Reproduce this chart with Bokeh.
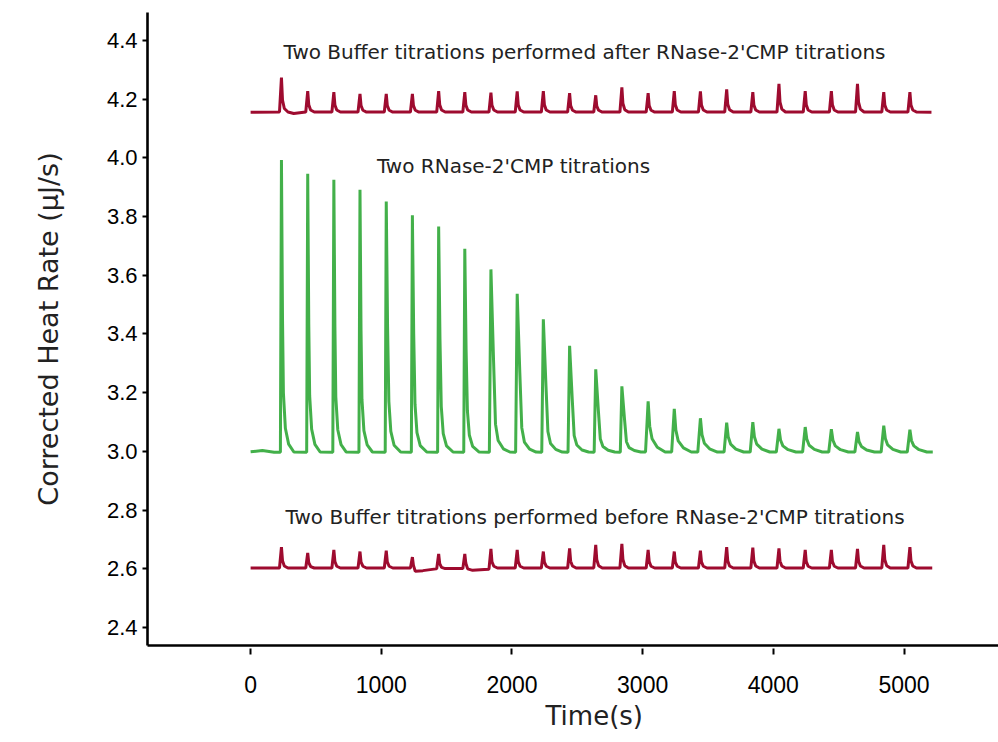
from bokeh.plotting import figure
from bokeh.models import Range1d, FixedTicker, ColumnDataSource, PrintfTickFormatter, Title
from bokeh.core.properties import value
from bokeh.embed import file_html
from bokeh.resources import INLINE

# ---------------- data ----------------
# RNase-2'CMP titration trace (green), time in s, heat rate in uJ/s
green_t = [0, 90, 180,
           228, 236, 244, 251, 266, 291, 331,
           429, 437, 445, 452, 467, 492, 532,
           629, 637, 645, 652, 667, 692, 732,
           829, 837, 845, 852, 867, 892, 932,
           1030, 1038, 1048, 1058, 1073, 1098, 1148,
           1230, 1238, 1248, 1258, 1273, 1298, 1348,
           1431, 1439, 1449, 1459, 1474, 1499, 1549,
           1631, 1639, 1649, 1659, 1674, 1699, 1749,
           1827, 1839, 1859, 1874, 1894, 1934, 1984,
           2028, 2040, 2060, 2075, 2095, 2135, 2185,
           2228, 2240, 2260, 2275, 2295, 2335, 2385,
           2429, 2441, 2461, 2476, 2496, 2536, 2586,
           2629, 2641, 2661, 2676, 2696, 2736, 2786,
           2829, 2841, 2861, 2876, 2896, 2936, 2986,
           3022, 3042, 3054, 3072, 3112, 3172,
           3222, 3242, 3254, 3272, 3312, 3372,
           3422, 3442, 3454, 3472, 3512, 3572,
           3623, 3643, 3655, 3673, 3713, 3773,
           3823, 3843, 3855, 3873, 3913, 3973,
           4023, 4043, 4055, 4073, 4113, 4173,
           4224, 4244, 4256, 4274, 4314, 4374,
           4424, 4444, 4456, 4474, 4514, 4574,
           4624, 4644, 4656, 4674, 4714, 4774,
           4825, 4845, 4857, 4875, 4915, 4975,
           5025, 5045, 5057, 5075, 5115, 5175,
           5220]
green_y = [2.999, 3.003, 2.997,
           2.997, 3.993, 3.457, 3.199, 3.079, 3.025, 2.998,
           2.997, 3.946, 3.435, 3.189, 3.076, 3.024, 2.998,
           2.997, 3.925, 3.426, 3.185, 3.074, 3.023, 2.998,
           2.997, 3.891, 3.410, 3.178, 3.071, 3.022, 2.998,
           2.997, 3.851, 3.426, 3.170, 3.068, 3.021, 2.998,
           2.997, 3.804, 3.402, 3.161, 3.064, 3.020, 2.998,
           2.997, 3.766, 3.383, 3.153, 3.061, 3.019, 2.998,
           2.997, 3.690, 3.345, 3.138, 3.055, 3.017, 2.998,
           2.997, 3.620, 3.310, 3.093, 3.037, 3.009, 2.998,
           2.997, 3.537, 3.269, 3.081, 3.032, 3.008, 2.998,
           2.997, 3.450, 3.225, 3.068, 3.027, 3.007, 2.998,
           2.997, 3.360, 3.180, 3.054, 3.022, 3.005, 2.998,
           2.997, 3.280, 3.140, 3.042, 3.017, 3.004, 2.998,
           2.997, 3.222, 3.111, 3.033, 3.013, 3.003, 2.998,
           2.998, 3.171, 3.086, 3.043, 3.014, 2.998,
           2.998, 3.145, 3.073, 3.036, 3.012, 2.998,
           2.998, 3.113, 3.057, 3.028, 3.009, 2.998,
           2.998, 3.098, 3.049, 3.025, 3.008, 2.998,
           2.998, 3.100, 3.050, 3.025, 3.008, 2.998,
           2.998, 3.077, 3.039, 3.019, 3.006, 2.998,
           2.998, 3.083, 3.042, 3.021, 3.007, 2.998,
           2.998, 3.076, 3.038, 3.019, 3.006, 2.998,
           2.998, 3.066, 3.033, 3.017, 3.005, 2.998,
           2.998, 3.088, 3.044, 3.022, 3.007, 2.998,
           2.998, 3.074, 3.037, 3.019, 3.006, 2.998,
           2.998]

# Buffer titrations after RNase-2'CMP (upper dark red trace)
after_t = [0,
           221, 236, 244, 258, 286, 330,
           422, 437, 445, 459, 487,
           622, 637, 645, 659, 687,
           822, 837, 845, 859, 887,
           1023, 1038, 1046, 1060, 1088,
           1223, 1238, 1246, 1260, 1288,
           1424, 1439, 1447, 1461, 1489,
           1624, 1639, 1647, 1661, 1689,
           1824, 1839, 1847, 1861, 1889,
           2025, 2040, 2048, 2062, 2090,
           2225, 2240, 2248, 2262, 2290,
           2426, 2441, 2449, 2463, 2491,
           2626, 2641, 2649, 2663, 2691,
           2826, 2841, 2849, 2863, 2891,
           3027, 3042, 3050, 3064, 3092,
           3227, 3242, 3250, 3264, 3292,
           3427, 3442, 3450, 3464, 3492,
           3628, 3643, 3651, 3665, 3693,
           3828, 3843, 3851, 3865, 3893,
           4028, 4043, 4051, 4065, 4093,
           4229, 4244, 4252, 4266, 4294,
           4429, 4444, 4452, 4466, 4494,
           4629, 4644, 4652, 4666, 4694,
           4830, 4845, 4853, 4867, 4895,
           5030, 5045, 5053, 5067, 5095,
           5210]
after_y = [4.155,
           4.156, 4.273, 4.197, 4.168, 4.156, 4.151,
           4.156, 4.227, 4.181, 4.163, 4.156,
           4.156, 4.224, 4.180, 4.163, 4.156,
           4.156, 4.218, 4.178, 4.162, 4.156,
           4.156, 4.218, 4.178, 4.162, 4.156,
           4.156, 4.218, 4.178, 4.162, 4.156,
           4.156, 4.227, 4.181, 4.163, 4.156,
           4.156, 4.224, 4.180, 4.163, 4.156,
           4.156, 4.222, 4.179, 4.163, 4.156,
           4.156, 4.226, 4.180, 4.163, 4.156,
           4.156, 4.227, 4.181, 4.163, 4.156,
           4.156, 4.220, 4.178, 4.162, 4.156,
           4.156, 4.213, 4.176, 4.162, 4.156,
           4.156, 4.240, 4.185, 4.164, 4.156,
           4.156, 4.220, 4.178, 4.162, 4.156,
           4.156, 4.227, 4.181, 4.163, 4.156,
           4.156, 4.226, 4.180, 4.163, 4.156,
           4.156, 4.233, 4.183, 4.164, 4.156,
           4.156, 4.224, 4.180, 4.163, 4.156,
           4.156, 4.252, 4.190, 4.166, 4.156,
           4.156, 4.227, 4.181, 4.163, 4.156,
           4.156, 4.227, 4.181, 4.163, 4.156,
           4.156, 4.252, 4.190, 4.166, 4.156,
           4.156, 4.224, 4.180, 4.163, 4.156,
           4.156, 4.224, 4.180, 4.163, 4.156,
           4.155]

# Buffer titrations before RNase-2'CMP (lower dark red trace)
before_t = [0,
            221, 236, 244, 258, 286,
            422, 437, 445, 459, 487,
            622, 637, 645, 659, 687,
            822, 837, 845, 859, 887,
            1023, 1038, 1046, 1060, 1088,
            1223, 1238, 1246, 1260, 1318, 1418,
            1424, 1439, 1447, 1461, 1489,
            1624, 1639, 1647, 1661, 1699, 1789,
            1824, 1839, 1847, 1861, 1889,
            2025, 2040, 2048, 2062, 2090,
            2225, 2240, 2248, 2262, 2290,
            2426, 2441, 2449, 2463, 2491,
            2626, 2641, 2649, 2663, 2691,
            2826, 2841, 2849, 2863, 2891,
            3027, 3042, 3050, 3064, 3092,
            3227, 3242, 3250, 3264, 3292,
            3427, 3442, 3450, 3464, 3492,
            3628, 3643, 3651, 3665, 3693,
            3828, 3843, 3851, 3865, 3893,
            4028, 4043, 4051, 4065, 4093,
            4229, 4244, 4252, 4266, 4294,
            4429, 4444, 4452, 4466, 4494,
            4629, 4644, 4652, 4666, 4694,
            4830, 4845, 4853, 4867, 4895,
            5030, 5045, 5053, 5067, 5095,
            5216]
before_y = [2.603,
            2.603, 2.674, 2.628, 2.610, 2.603,
            2.603, 2.654, 2.621, 2.608, 2.603,
            2.603, 2.665, 2.625, 2.609, 2.603,
            2.603, 2.659, 2.623, 2.609, 2.603,
            2.603, 2.662, 2.624, 2.609, 2.603,
            2.603, 2.640, 2.612, 2.592, 2.594, 2.600,
            2.600, 2.651, 2.618, 2.605, 2.601,
            2.601, 2.651, 2.619, 2.600, 2.595, 2.598,
            2.599, 2.668, 2.624, 2.609, 2.603,
            2.603, 2.665, 2.625, 2.609, 2.603,
            2.603, 2.659, 2.623, 2.609, 2.603,
            2.603, 2.670, 2.626, 2.610, 2.603,
            2.603, 2.682, 2.631, 2.611, 2.603,
            2.603, 2.685, 2.632, 2.611, 2.603,
            2.603, 2.665, 2.625, 2.609, 2.603,
            2.603, 2.659, 2.623, 2.609, 2.603,
            2.603, 2.662, 2.624, 2.609, 2.603,
            2.603, 2.674, 2.628, 2.610, 2.603,
            2.603, 2.672, 2.627, 2.610, 2.603,
            2.603, 2.670, 2.626, 2.610, 2.603,
            2.603, 2.665, 2.625, 2.609, 2.603,
            2.603, 2.665, 2.625, 2.609, 2.603,
            2.603, 2.668, 2.626, 2.610, 2.603,
            2.603, 2.682, 2.631, 2.611, 2.603,
            2.603, 2.674, 2.628, 2.610, 2.603,
            2.603]

note_text = ["Two Buffer titrations performed after RNase-2'CMP titrations",
             "Two RNase-2'CMP titrations",
             "Two Buffer titrations performed before RNase-2'CMP titrations"]
note_x = [2555, 2012, 2636]
note_y = [4.359, 3.971, 2.775]

x_title = "Time(s)"
y_title = "Corrected Heat Rate (\u00b5J/s)"

x_ticks = [0, 1000, 2000, 3000, 4000, 5000]
y_ticks = [2.4, 2.6, 2.8, 3.0, 3.2, 3.4, 3.6, 3.8, 4.0, 4.2, 4.4]

# ---------------- figure ----------------
GREEN = "#43b04a"
RED = "#9e0b2f"

p = figure(width=998, height=742, output_backend="svg", toolbar_location=None,
           x_range=Range1d(-789, 5723), y_range=Range1d(2.339, 4.495),
           min_border_left=147, min_border_top=12, min_border_right=0,
           min_border_bottom=97)
p.outline_line_color = None
p.xgrid.visible = False
p.ygrid.visible = False
p.background_fill_color = "white"

p.line(after_t, after_y, line_color=RED, line_width=3)
p.line(before_t, before_y, line_color=RED, line_width=3)
p.line(green_t, green_y, line_color=GREEN, line_width=3)

notes = ColumnDataSource(dict(x=note_x, y=note_y, t=note_text))
p.text(x="x", y="y", text="t", source=notes, text_align="center",
       text_baseline="middle", text_font=value("DejaVu Sans"),
       text_font_size="20px", text_color="#222222")

# x-axis title, set slightly right of the frame centre as in the original
p.add_layout(Title(text=x_title, align="left", offset=398, standoff=10,
                   vertical_align="top", text_font="DejaVu Sans",
                   text_font_size="26px", text_font_style="normal",
                   text_color="#222222"), "below")

# axes
xa = p.xaxis[0]
xa.ticker = FixedTicker(ticks=x_ticks)
xa.axis_line_width = 2.6
xa.axis_line_color = "black"
xa.major_tick_line_width = 2
xa.major_tick_in = -3
xa.major_tick_out = 9
xa.minor_tick_line_color = None
xa.major_label_text_font = "Liberation Sans Narrow, Liberation Sans"
xa.major_label_text_font_size = "23px"
xa.major_label_text_color = "black"
xa.major_label_standoff = 21

ya = p.yaxis[0]
ya.ticker = FixedTicker(ticks=y_ticks)
ya.formatter = PrintfTickFormatter(format="%.1f")
ya.axis_line_width = 2.6
ya.axis_line_color = "black"
ya.major_tick_line_width = 2
ya.major_tick_in = 0
ya.major_tick_out = 5
ya.minor_tick_line_color = None
ya.major_label_text_font = "Liberation Sans"
ya.major_label_text_font_size = "22px"
ya.major_label_text_color = "black"
ya.major_label_standoff = 5
ya.axis_label = y_title
ya.axis_label_text_font = "DejaVu Sans"
ya.axis_label_text_font_style = "normal"
ya.axis_label_text_font_size = "27px"
ya.axis_label_text_color = "#222222"
ya.axis_label_standoff = 40

open("out.html", "w").write(file_html(p, INLINE))
